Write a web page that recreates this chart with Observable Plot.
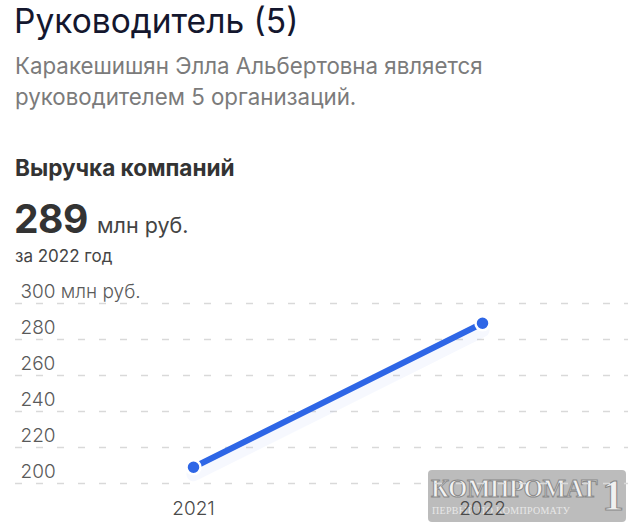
<!DOCTYPE html>
<html>
<head>
<meta charset="utf-8">
<script src="https://cdn.jsdelivr.net/npm/d3@7"></script>
<script src="https://cdn.jsdelivr.net/npm/@observablehq/plot@0.6"></script>
<style>
  html, body { margin: 0; padding: 0; background: #fff; }
  body { width: 640px; height: 530px; position: relative; overflow: hidden; font-family: Inter, "Noto Sans", sans-serif; }
  .abs { position: absolute; white-space: nowrap; }
  #title { left: 14px; top: 5px; font-size: 33.5px; line-height: 1; color: #14172e; font-weight: 400; }
  #sub { left: 15px; top: 50px; font-size: 22.3px; line-height: 31px; color: #7b7b7b; font-weight: 400; }
  #rev { left: 15px; top: 157px; font-size: 22.6px; line-height: 1; color: #333; font-weight: 700; }
  #big { left: 14px; top: 199px; font-size: 39px; line-height: 1; color: #333; font-weight: 700; letter-spacing: -0.5px; }
  #unit { left: 97px; top: 215px; font-size: 21.5px; line-height: 1; color: #444; }
  #year { left: 15px; top: 248px; font-size: 17px; line-height: 1; color: #444; }
  #chart { position: absolute; left: 0; top: 270px; z-index: 2; }
  #wm { position: absolute; left: 428px; top: 470px; width: 198px; height: 52px; z-index: 1; overflow: hidden;
        background: rgba(165,165,165,0.75); border-radius: 4px; }
  #wm .w1 { position: absolute; left: 3px; top: 6px; font-family: "Liberation Serif", "DejaVu Serif", serif; font-size: 25px; font-weight: 700;
            color: #f2f2f2; -webkit-text-stroke: 1px #8a8a8a; letter-spacing: -0.5px; line-height: 1; }
  #wm .w2 { position: absolute; left: 4px; top: 36px; font-family: "Liberation Serif", serif; font-size: 10px; color: #e8e8e8; letter-spacing: 0.3px; line-height: 1; }
  #wm .w3 { position: absolute; left: 174px; top: 4px; font-family: "Liberation Serif", serif; font-size: 44px; font-weight: 700; color: #f0f0f0; -webkit-text-stroke: 1px #888; line-height: 1; }
</style>
</head>
<body>
<div id="title" class="abs">Руководитель (5)</div>
<div id="sub" class="abs">Каракешишян Элла Альбертовна является<br>руководителем 5 организаций.</div>
<div id="rev" class="abs">Выручка компаний</div>
<div id="big" class="abs">289</div>
<div id="unit" class="abs">млн руб.</div>
<div id="year" class="abs">за 2022 год</div>
<div id="wm"><div class="w1">КОМПРОМАТ</div><div class="w2">ПЕРВЫЙ ПО КОМПРОМАТУ</div><div class="w3">1</div></div>
<div id="chart"></div>
<script>
// Data
const years = ["2021", "2022"];
const revenue = [209, 289];
const yTicks = [200, 220, 240, 260, 280, 300];
const yTickLabels = ["200", "220", "240", "260", "280", "300 млн руб."];

const data = years.map((y, i) => ({year: y, value: revenue[i]}));
const tickData = yTicks.map((v, i) => ({v, label: yTickLabels[i]}));
const blue = "#2e66e6";

const chart = Plot.plot({
  width: 640,
  height: 260,
  marginTop: 33,
  marginBottom: 47,
  marginLeft: 15,
  marginRight: 12,
  style: {fontFamily: "Inter, 'Noto Sans', sans-serif", background: "transparent"},
  x: {type: "point", domain: years, range: [193, 482], padding: 0, axis: null},
  y: {domain: [200, 300], axis: null},
  marks: [
    Plot.ruleY(tickData, {y: "v", stroke: "#d9d9d9", strokeWidth: 1.3, strokeDasharray: "7,14"}),
    Plot.text(tickData, {y: "v", text: "label", frameAnchor: "left", textAnchor: "start", lineAnchor: "middle",
      dx: 5, dy: -12, fontSize: 19, fill: "#5a5a5a", fontWeight: 300}),
    Plot.line(data, {x: "year", y: "value", stroke: blue, strokeOpacity: 0.045, strokeWidth: 14, dy: 7}),
    Plot.line(data, {x: "year", y: "value", stroke: blue, strokeWidth: 6}),
    Plot.dot(data, {x: "year", y: "value", r: 7, fill: blue, stroke: "white", strokeWidth: 2.5}),
    Plot.text(years, {x: d => d, text: d => d, frameAnchor: "bottom", lineAnchor: "middle", dy: 25,
      fontSize: 19, fill: "#4a4a4a", fontWeight: 300})
  ]
});
document.getElementById("chart").appendChild(chart);
</script>
</body>
</html>
